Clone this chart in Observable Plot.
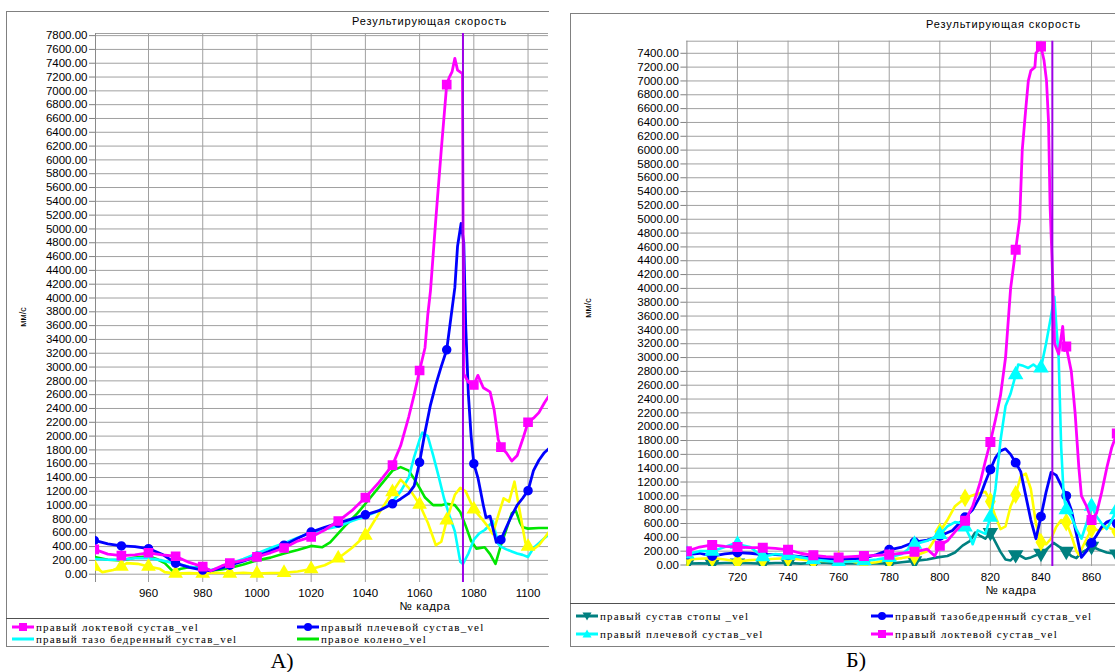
<!DOCTYPE html>
<html><head><meta charset="utf-8">
<script src="https://cdn.jsdelivr.net/npm/d3@7"></script>
<script src="https://cdn.jsdelivr.net/npm/@observablehq/plot@0.6"></script>
<style>
body{margin:0;background:#fff;}
#page{position:relative;width:1115px;height:672px;overflow:hidden;font-family:"Liberation Sans",Arial,sans-serif;color:#000;}
.panel{position:absolute;border:1px solid #808080;box-sizing:border-box;}
.sep{position:absolute;height:0;border-top:1px solid #505050;}
.title{position:absolute;font-size:11px;letter-spacing:0.9px;white-space:nowrap;}
.xl{position:absolute;font-size:11.5px;letter-spacing:0.6px;transform:translateX(-50%);white-space:nowrap;}
.yl{position:absolute;font-size:9px;transform:translate(-50%,-50%) rotate(-90deg);white-space:nowrap;}
.leg{position:absolute;font-family:"Liberation Serif","Times New Roman",serif;font-size:11px;letter-spacing:1.2px;white-space:nowrap;display:flex;align-items:center;height:12px;}
.leg span{font-family:"Liberation Serif","Times New Roman",serif;}
.leg svg{margin-right:2px;}
.cap{position:absolute;font-family:"Liberation Serif",serif;font-size:22px;transform:translateX(-50%);}
svg.plot{position:absolute;}
</style></head>
<body><div id="page"></div>
<script>
// ---------- LEFT chart (A) data ----------
const L_elbow_f = [940,945,950,955,960,965,970,975,980,983,987,990,995,1000,1005,1010,1015,1020,1025,1030,1035,1040,1045,1050,1053,1056,1058,1060,1062,1063,1064,1066,1068,1070,1071,1072,1073,1074,1075.8,1076.3,1078,1080,1081.5,1083.5,1086,1087.5,1089,1090,1092,1094,1096,1098,1100,1102,1104,1106,1108];
const L_elbow_v = [360,290,270,280,310,280,260,170,110,50,120,160,200,250,310,380,480,540,640,770,920,1110,1330,1580,1860,2280,2600,2950,3280,3750,4100,5150,6150,7090,7200,7280,7470,7300,7250,2900,2780,2740,2880,2700,2640,2380,1950,1840,1760,1640,1720,1950,2200,2260,2340,2480,2600];
const L_shoulder_f = [940,945,950,955,960,965,970,975,980,983,987,990,995,1000,1005,1010,1015,1020,1025,1030,1035,1040,1045,1050,1053,1056,1058,1060,1062,1064,1066,1068,1070,1072,1073,1074,1075.3,1076.3,1077,1078,1079,1080,1081.5,1082.5,1083.5,1084.5,1086,1088.3,1090,1092,1094,1096,1098,1100,1102,1104,1106,1108];
const L_shoulder_v = [490,440,410,400,370,290,160,100,60,50,90,130,190,260,340,420,520,610,680,740,800,860,920,1020,1090,1170,1280,1620,2060,2450,2750,3010,3250,3850,4150,4750,5080,4800,3600,2600,2000,1600,1400,1200,1000,820,840,460,500,680,850,1000,1100,1210,1500,1650,1760,1830];
const L_hip_f = [940,945,950,955,960,965,970,975,980,983,987,990,995,1000,1005,1010,1015,1020,1025,1030,1035,1040,1045,1050,1053,1056,1058,1060,1061,1063,1065,1067,1069,1071,1073,1075,1076,1078,1080,1082,1084,1086,1087,1088,1089,1090,1092,1094,1096,1098,1100,1102,1104,1106,1108];
const L_hip_v = [220,210,210,230,230,200,150,110,80,60,100,150,220,300,380,450,530,600,650,690,770,840,920,1050,1200,1400,1700,1950,2050,2000,1720,1420,1100,850,620,180,150,300,500,590,640,720,770,600,440,400,360,330,300,280,250,380,450,520,580];
const L_knee_f = [940,945,950,955,960,963,966,969,972,975,980,983,987,990,995,1000,1005,1010,1015,1020,1024,1027,1030,1033,1037,1040,1045,1050,1053,1056,1058,1060,1062,1065,1068,1070,1073,1075,1077,1079,1081,1084,1086,1088,1090,1092,1094,1095.5,1097,1098,1100,1104,1108];
const L_knee_v = [250,210,200,240,260,220,160,40,80,100,100,50,70,90,140,200,240,300,350,410,390,460,590,720,880,1020,1260,1500,1550,1500,1380,1250,1110,1000,1000,1020,1000,900,700,480,370,390,290,150,420,650,880,920,750,680,660,670,670];
const L_other_f = [940,943,947,950,952,956,960,964,966,970,975,980,985,990,995,1000,1005,1010,1015,1020,1025,1030,1035,1040,1045,1050,1053,1056,1060,1063,1066,1068,1070,1073,1075,1077,1080,1083,1085,1087,1089,1091,1093,1095,1097,1099,1100,1102,1104,1106,1108];
const L_other_v = [110,30,60,110,160,150,110,80,30,10,15,10,20,10,20,10,15,20,40,75,130,230,380,560,880,1190,1370,1250,1010,750,420,470,780,1150,1250,1200,940,800,700,580,850,1100,1050,1340,900,460,400,360,420,520,630];
const L_xTicks = [960,980,1000,1020,1040,1060,1080,1100];
const L_yTicks = d3.range(0, 7801, 200);
const L_marker_frame = 1076;

// ---------- RIGHT chart (Б) data ----------
const R_foot_f = [700,705,710,715,720,725,730,735,740,745,750,755,760,765,770,775,780,785,790,795,799,803,806,809,812,814,816,818,820,822,824,826,828,830,832,834,836,838,840,842,845,847,850,852,854,856,858,860,863,866,868,870];
const R_foot_v = [20,25,20,30,30,25,20,30,30,20,30,30,20,25,20,25,20,40,60,80,110,130,180,280,350,470,420,380,470,330,190,80,65,150,130,90,110,140,170,220,320,270,200,130,100,180,220,270,220,180,170,160];
const R_hip_f = [700,705,710,715,720,725,730,735,740,745,750,755,760,765,770,775,780,785,790,795,800,805,810,813,816,818,820,822,824,826,828,830,832,834,836,838,840,842,844,846,848,850,852,854,856,858,860,862,864,866,868,870];
const R_hip_v = [150,170,130,160,180,170,150,150,140,120,100,90,80,90,100,150,220,260,330,360,420,500,690,800,1000,1200,1380,1550,1650,1680,1600,1480,1350,1000,650,380,700,1050,1340,1300,1150,1000,800,450,110,200,320,430,550,620,650,600];
const R_shoulder_f = [700,705,710,715,718,720,725,730,735,740,745,750,755,760,765,770,775,780,785,790,795,800,803,806,808,810,812,813,815,818,820,822,824,826,828,830,831,833,835,837,839,840,842,844,845.3,846,847,848,849,850,852,854,856,858,860,862,864,866,868,870];
const R_shoulder_v = [160,200,200,260,300,300,260,120,160,140,110,80,60,40,50,60,80,110,160,300,350,440,560,620,610,550,400,300,500,450,690,1100,1800,2300,2480,2750,2900,2880,2850,2900,2840,2850,3200,3600,3880,3500,3000,1700,1000,800,700,520,380,600,850,700,600,520,650,800];
const R_elbow_f = [700,705,710,715,720,725,730,735,740,745,750,755,760,765,770,775,780,785,790,795,798,800,803,806,810,813,816,818,820,822,824,826,828,830,831.6,832.6,834,835,836,837.6,838,840,841.2,842.2,843,843.3,843.6,844.4,845.4,847,848.6,849.3,850,852,853.5,855,856,858,860,862,864,866,868,870];
const R_elbow_v = [200,260,290,270,260,250,250,240,220,170,140,120,110,120,130,140,150,170,190,230,130,280,350,480,640,850,1200,1500,1780,2100,2450,3000,4000,4560,5000,6000,6600,7000,7150,7200,7400,7500,7300,7000,6400,5800,5200,4400,3200,3050,3450,3100,3160,2800,2200,1400,1000,850,650,750,1050,1400,1700,1900];
const R_other_f = [700,705,710,715,720,725,730,735,740,745,750,755,760,765,770,775,780,785,790,795,800,803,806,810,814,818,820,822,824,826,828,830,832,834,836,838,840,842,844,846,848,850,852,854,855,857,860,863,866,868,870];
const R_other_v = [80,90,100,80,50,70,80,90,100,80,60,60,70,50,20,40,80,100,130,200,480,650,850,970,1020,1060,920,700,520,560,850,1020,1280,1320,1100,600,330,300,380,550,650,620,430,200,150,300,520,500,560,520,480];
const R_xTicks = [720,740,760,780,800,820,840,860];
const R_yTicks = d3.range(0, 7401, 200);
const R_marker_frame = 844.5;

const L_names = ["правый локтевой сустав_vel","правый плечевой сустав_vel","правый тазо бедренный сустав_vel","правое колено_vel"];
const R_names = ["правый сустав стопы _vel","правый тазобедренный сустав_vel","правый плечевой сустав_vel","правый локтевой сустав_vel"];

const zip = (fs, vs) => fs.map((f, i) => ({f, v: vs[i]}));
const C = {mag:"#ff00ff", blue:"#0000ff", cyan:"#00ffff", green:"#00e600", yellow:"#ffff00", teal:"#008080", vline:"#9d00e6", grid:"#a0a0a0"};

function makePanel(cfg) {
  const [y0, y1] = cfg.yDomain;
  const marks = [
    Plot.ruleY(cfg.yTicks, {stroke: C.grid}),
    Plot.ruleY([y1], {stroke: C.grid}),
    Plot.ruleX(cfg.xTicks, {stroke: C.grid, y1: y0, y2: y1}),
    Plot.ruleX([cfg.xDomain[0]], {stroke: "#8a8a8a", y1: y0, y2: y1}),
    Plot.axisY(cfg.yTicks, {tickFormat: d3.format(".2f"), tickSize: 6, tickPadding: 2, stroke: "#808080", fill: "#000", label: null}),
    Plot.axisX(cfg.xTicks, {tickFormat: d => String(d), tickSize: 0, tickPadding: 6, fill: "#000", label: null})
  ];
  for (const s of cfg.series) {
    marks.push(Plot.line(s.data, {x: "f", y: "v", stroke: s.color, strokeWidth: s.w || 2.6, clip: true}));
    if (s.symbol) marks.push(Plot.dot(s.data.filter(d => d.f % 10 === 0), {x: "f", y: "v", symbol: s.symbol, r: s.r || 4, rotate: s.rotate || 0, fill: s.color, stroke: s.color, clip: true}));
  }
  marks.push(Plot.ruleX([cfg.vline], {stroke: C.vline, strokeWidth: 2, y1: y0, y2: y1}));
  const svg = Plot.plot({
    width: cfg.width, height: cfg.height,
    marginLeft: cfg.ml, marginRight: 0, marginTop: cfg.mt, marginBottom: cfg.mb,
    x: {domain: cfg.xDomain},
    y: {domain: cfg.yDomain},
    style: {fontFamily: "'Liberation Sans', Arial, sans-serif", fontSize: "11.5px", background: "transparent", overflow: "visible"},
    marks
  });
  svg.classList.add("plot");
  svg.style.left = cfg.left + "px";
  svg.style.top = cfg.top + "px";
  return svg;
}

const page = document.getElementById("page");
function el(cls, css, html) {
  const d = document.createElement("div");
  d.className = cls; d.style.cssText = css; if (html != null) d.innerHTML = html;
  page.appendChild(d); return d;
}

// panels & separators
el("panel", "left:6px;top:11px;width:560px;height:636px;border-right:none;");
el("sep", "left:6px;top:618px;width:560px;");
el("panel", "left:570px;top:13px;width:600px;height:634px;");
el("sep", "left:570px;top:603px;width:600px;");
el("", "position:absolute;left:549px;top:0;width:20px;height:672px;background:#fff;");

// left plot
const Lw = 548, Lh = 620, Lml = 95, Lmt = 33, Lmb = 38;
const Lpx = 2.711, Lpy = 0.06905, Lzero = 573.7;
page.appendChild(makePanel({
  left: 0, top: 0, width: Lw, height: Lh, ml: Lml, mt: Lmt, mb: Lmb,
  xDomain: [940.45, 940.45 + (Lw - Lml) / Lpx],
  yDomain: [-(Lh - Lmb - Lzero) / Lpy, (Lzero - Lmt) / Lpy],
  xTicks: L_xTicks, yTicks: L_yTicks, vline: L_marker_frame,
  series: [
    {data: zip(L_knee_f, L_knee_v), color: C.green},
    {data: zip(L_hip_f, L_hip_v), color: C.cyan},
    {data: zip(L_other_f, L_other_v), color: C.yellow, symbol: "triangle", r: 4.5},
    {data: zip(L_shoulder_f, L_shoulder_v), color: C.blue, symbol: "circle", r: 4, w: 2.8},
    {data: zip(L_elbow_f, L_elbow_v), color: C.mag, symbol: "square", r: 4.6, w: 2.8}
  ]
}));

// right plot
const Rleft = 570, Rw = 545, Rh = 600, Rml = 116.4, Rmt = 40.7, Rmb = 34;
const Rpx = 2.529, Rpy = 0.06915, Rzero = 564.5;
page.appendChild(makePanel({
  left: Rleft, top: 0, width: Rw, height: Rh, ml: Rml, mt: Rmt, mb: Rmb,
  xDomain: [700, 700 + (Rw - Rml) / Rpx],
  yDomain: [-(Rh - Rmb - Rzero) / Rpy, (Rzero - Rmt) / Rpy],
  xTicks: R_xTicks, yTicks: R_yTicks, vline: R_marker_frame,
  series: [
    {data: zip(R_foot_f, R_foot_v), color: C.teal, symbol: "triangle", rotate: 180, r: 4.8},
    {data: zip(R_other_f, R_other_v), color: C.yellow, symbol: "diamond", r: 4.8},
    {data: zip(R_hip_f, R_hip_v), color: C.blue, symbol: "circle", r: 4.2, w: 2.8},
    {data: zip(R_shoulder_f, R_shoulder_v), color: C.cyan, symbol: "triangle", r: 4.8},
    {data: zip(R_elbow_f, R_elbow_v), color: C.mag, symbol: "square", r: 4.8, w: 2.8}
  ]
}));

// titles and labels
el("title", "left:352px;top:15px;", "Результирующая скорость");
el("title", "left:926px;top:18px;", "Результирующая скорость");
el("xl", "left:425px;top:600px;", "№ кадра");
el("xl", "left:1011px;top:584px;", "№ кадра");
el("yl", "left:23px;top:317px;", "мм/с");
el("yl", "left:588px;top:308px;", "мм/с");
el("cap", "left:282px;top:648px;", "А)");
el("cap", "left:856px;top:647px;", "Б)");

// legends
function icon(color, sym) {
  let m = "";
  if (sym === "square") m = `<rect x="7" y="2" width="8" height="8" fill="${color}"/>`;
  else if (sym === "circle") m = `<circle cx="11" cy="6" r="4" fill="${color}"/>`;
  else if (sym === "triangle") m = `<path d="M11 1.5 L15.5 9.5 L6.5 9.5Z" fill="${color}"/>`;
  else if (sym === "tdown") m = `<path d="M11 10.5 L15.5 2.5 L6.5 2.5Z" fill="${color}"/>`;
  return `<svg width="22" height="12"><line x1="0" y1="6" x2="22" y2="6" stroke="${color}" stroke-width="3"/>${m}</svg>`;
}
function legItem(x, y, color, sym, text) {
  el("leg", `left:${x}px;top:${y - 6}px;`, icon(color, sym) + `<span>${text}</span>`);
}
legItem(12, 627, C.mag, "square", L_names[0]);
legItem(297, 627, C.blue, "circle", L_names[1]);
legItem(12, 639, C.cyan, null, L_names[2]);
legItem(297, 639, C.green, null, L_names[3]);
legItem(576, 616, C.teal, "tdown", R_names[0]);
legItem(871, 616, C.blue, "circle", R_names[1]);
legItem(576, 634, C.cyan, "triangle", R_names[2]);
legItem(871, 634, C.mag, "square", R_names[3]);
</script>
</body></html>
